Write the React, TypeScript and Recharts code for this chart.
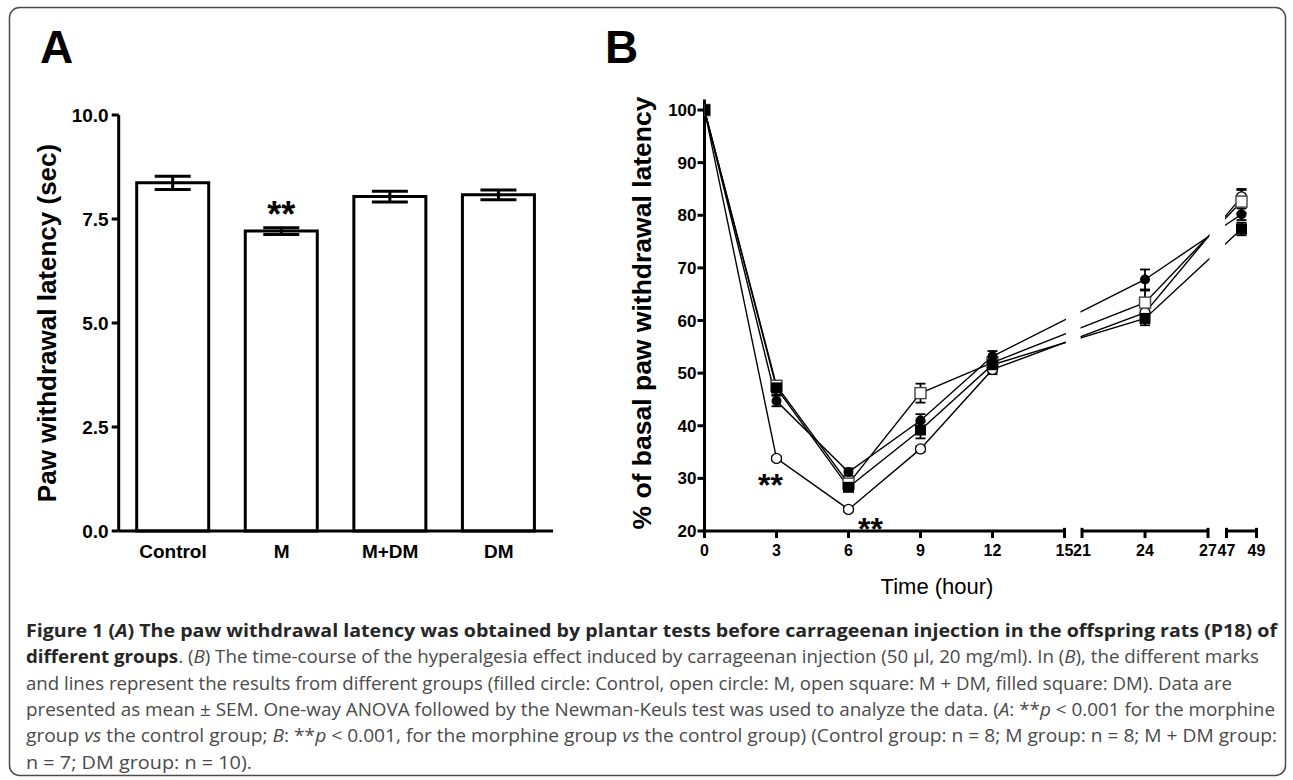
// Figure 1: paw withdrawal latency (A) and carrageenan time-course (B)

import {
  BarChart,
  Bar,
  LineChart,
  Line,
  XAxis,
  YAxis,
  ErrorBar,
  LabelList,
  Label,
  ReferenceLine,
  ReferenceArea,
} from 'recharts';

const FONT = "Arial, 'Liberation Sans', Helvetica, sans-serif";
const CAPTION_FONT = "'Open Sans', 'Noto Sans', sans-serif";

// ── Panel A data ──
const groupsA = ['Control', 'M', 'M+DM', 'DM'];
const latencyA = [8.37, 7.21, 8.04, 8.08];
const semA = [0.16, 0.08, 0.13, 0.12];
const sigA = ['', '**', '', ''];
const yTicksA = [0, 2.5, 5, 7.5, 10];

// ── Panel B data (% of basal latency) ──
const hoursB = [0, 3, 6, 9, 12, 24, 48];
const controlB = [100, 44.7, 31.2, 41.0, 53.2, 67.8, 80.2];
const controlSemB = [0, 1.0, 0.7, 1.2, 1.0, 1.9, 1.1];
const mB = [100, 33.8, 24.1, 35.6, 50.7, 61.5, 83.5];
const mSemB = [0, 0.4, 0.4, 0.5, 0.9, 1.2, 1.5];
const mdmB = [100, 47.6, 29.0, 46.2, 52.0, 63.4, 82.6];
const mdmSemB = [0, 0.9, 0.5, 1.8, 1.0, 2.3, 2.2];
const dmB = [100, 47.2, 28.3, 39.2, 51.6, 60.4, 77.4];
const dmSemB = [0, 1.3, 0.7, 1.6, 1.4, 1.3, 1.2];
const sigB = ['', '**', '**', '', '', '', ''];
const xTicksB = [0, 3, 6, 9, 12, 15, 21, 24, 27, 47, 49];
const yTicksB = [20, 30, 40, 50, 60, 70, 80, 90, 100];
const axisPiecesB = [
  [0, 15],
  [21, 27],
  [47, 49],
];

// broken x axis: each piece gets its own start and compression on a linear position scale
const BREAKS = [
  { from: 0, to: 15, start: 0, scale: 1 },
  { from: 21, to: 27, start: 15.73, scale: 0.875 },
  { from: 47, to: 49, start: 21.75, scale: 0.625 },
];
const toPos = (h: number) => {
  const seg = BREAKS.find((b) => h >= b.from && h <= b.to) ?? BREAKS[BREAKS.length - 1];
  return seg.start + (h - seg.from) * seg.scale;
};
const fmtHour = (v: number) => {
  const h = xTicksB.find((t) => Math.abs(toPos(t) - v) < 1e-6);
  return h === undefined ? '' : String(h);
};

const barRows = groupsA.map((g, i) => ({ group: g, latency: latencyA[i], sem: semA[i], sig: sigA[i] }));

const rowsB = hoursB.map((h, i) => ({
  pos: toPos(h),
  control: controlB[i],
  controlSem: controlSemB[i],
  m: mB[i],
  mSem: mSemB[i],
  sig: sigB[i],
  mdm: mdmB[i],
  mdmSem: mdmSemB[i],
  dm: dmB[i],
  dmSem: dmSemB[i],
}));

// where the "**" sits relative to the open-circle point (by index)
const SIG_OFFSET: Record<number, [number, number]> = { 1: [-6, 38], 2: [22, 31] };

const tickA = { fill: '#000', fontSize: 19, fontWeight: 'bold', fontFamily: FONT };
const tickB = { fill: '#000', fontSize: 17, fontWeight: 'bold', fontFamily: FONT };
const axisStroke = { stroke: '#000', strokeWidth: 3 };

type DotP = { cx?: number; cy?: number; index?: number; payload?: { sig?: string } };

const filledCircle = (p: DotP) => <circle key={`fc-${p.index}`} cx={p.cx} cy={p.cy} r={5} fill="#000" />;
const filledSquare = (p: DotP) => (
  <rect key={`fs-${p.index}`} x={(p.cx ?? 0) - 5.5} y={(p.cy ?? 0) - 5.5} width={11} height={11} fill="#000" />
);
const openSquare = (p: DotP) => (
  <rect
    key={`os-${p.index}`}
    x={(p.cx ?? 0) - 5.5}
    y={(p.cy ?? 0) - 5.5}
    width={11}
    height={11}
    fill="#fff"
    stroke="#444"
    strokeWidth={1.4}
  />
);
const openCircle = (p: DotP) => {
  const off = SIG_OFFSET[p.index ?? -1];
  return (
    <g key={`oc-${p.index}`}>
      <circle cx={p.cx} cy={p.cy} r={5} fill="#fff" stroke="#000" strokeWidth={1.3} />
      {p.payload?.sig && off ? (
        <text
          x={(p.cx ?? 0) + off[0]}
          y={(p.cy ?? 0) + off[1]}
          textAnchor="middle"
          fontFamily={FONT}
          fontWeight="bold"
          fontSize={32}
          fill="#000"
        >
          {p.payload.sig}
        </text>
      ) : null}
    </g>
  );
};

const seriesB = [
  { key: 'm', dot: openCircle },
  { key: 'mdm', dot: openSquare },
  { key: 'control', dot: filledCircle },
  { key: 'dm', dot: filledSquare },
];

const captionLines: { y: number; w: number; parts: [string, string][] }[] = [
  {
    y: 637,
    w: 1251,
    parts: [
      ['b', 'Figure 1 ('],
      ['bi', 'A'],
      ['b', ') The paw withdrawal latency was obtained by plantar tests before carrageenan injection in the offspring rats (P18) of'],
    ],
  },
  {
    y: 663.3,
    w: 1233,
    parts: [
      ['b', 'different groups'],
      ['r', '. ('],
      ['i', 'B'],
      ['r', ') The time-course of the hyperalgesia effect induced by carrageenan injection (50 µl, 20 mg/ml). In ('],
      ['i', 'B'],
      ['r', '), the different marks'],
    ],
  },
  {
    y: 689.6,
    w: 1206,
    parts: [
      ['r', 'and lines represent the results from different groups (filled circle: Control, open circle: M, open square: M + DM, filled square: DM). Data are'],
    ],
  },
  {
    y: 716,
    w: 1249,
    parts: [
      ['r', 'presented as mean ± SEM. One-way ANOVA followed by the Newman-Keuls test was used to analyze the data. ('],
      ['i', 'A'],
      ['r', ': **'],
      ['i', 'p'],
      ['r', ' < 0.001 for the morphine'],
    ],
  },
  {
    y: 742.2,
    w: 1251,
    parts: [
      ['r', 'group '],
      ['i', 'vs'],
      ['r', ' the control group; '],
      ['i', 'B'],
      ['r', ': **'],
      ['i', 'p'],
      ['r', ' < 0.001, for the morphine group '],
      ['i', 'vs'],
      ['r', ' the control group) (Control group: n = 8; M group: n = 8; M + DM group:'],
    ],
  },
  { y: 768.5, w: 226, parts: [['r', 'n = 7; DM group: n = 10).']] },
];

export default function App() {
  return (
    <div style={{ position: 'relative', width: 1293, height: 780, background: '#fff', overflow: 'hidden' }}>
      <style>{'body{margin:0;background:#fff}'}</style>

      {/* frame, panel letters and caption */}
      <svg width={1293} height={780} style={{ position: 'absolute', left: 0, top: 0 }}>
        <rect x={9.5} y={7.5} width={1276} height={768} rx={10} fill="none" stroke="#4a4a4a" strokeWidth={1.5} />
        <text x={40} y={63} fontFamily={FONT} fontWeight="bold" fontSize={46} fill="#000">
          A
        </text>
        <text x={605} y={63} fontFamily={FONT} fontWeight="bold" fontSize={46} fill="#000">
          B
        </text>
        {captionLines.map((line, li) => (
          <text
            key={li}
            x={26}
            y={line.y}
            textLength={line.w}
            lengthAdjust="spacingAndGlyphs"
            fontFamily={CAPTION_FONT}
            fontSize={18.5}
            fill="#4a4a4a"
          >
            {line.parts.map(([style, txt], pi) => (
              <tspan
                key={pi}
                fontWeight={style.includes('b') ? 'bold' : 'normal'}
                fontStyle={style.includes('i') ? 'italic' : 'normal'}
                fill={style.includes('b') ? '#262626' : '#4a4a4a'}
              >
                {txt}
              </tspan>
            ))}
          </text>
        ))}
      </svg>

      {/* Panel A */}
      <div style={{ position: 'absolute', left: 0, top: 0 }}>
        <BarChart
          width={600}
          height={600}
          data={barRows}
          margin={{ top: 115, right: 47, bottom: 29, left: 48.7 }}
        >
          <XAxis
            dataKey="group"
            interval={0}
            tickLine={false}
            axisLine={axisStroke}
            tick={tickA}
            tickSize={8}
            tickMargin={6}
            height={40}
          />
          <YAxis
            type="number"
            domain={[0, 10]}
            ticks={yTicksA}
            interval={0}
            tickFormatter={(v: number) => v.toFixed(1)}
            width={70}
            axisLine={axisStroke}
            tickLine={axisStroke}
            tickSize={7}
            tickMargin={3}
            tick={tickA}
          >
            <Label
              content={() => (
                <text
                  x={56}
                  y={323}
                  transform="rotate(-90 56 323)"
                  textAnchor="middle"
                  fontFamily={FONT}
                  fontWeight="bold"
                  fontSize={26}
                  fill="#000"
                >
                  Paw withdrawal latency (sec)
                </text>
              )}
            />
          </YAxis>
          <Bar dataKey="latency" barSize={72} fill="#fff" stroke="#000" strokeWidth={3} isAnimationActive={false}>
            <ErrorBar dataKey="sem" width={18} stroke="#000" strokeWidth={3} direction="y" />
            <LabelList
              dataKey="sig"
              position="top"
              offset={4}
              fontFamily={FONT}
              fontWeight="bold"
              fontSize={36}
              fill="#000"
            />
          </Bar>
        </BarChart>
      </div>

      {/* Panel B */}
      <div style={{ position: 'absolute', left: 560, top: 0 }}>
        <LineChart
          width={733}
          height={640}
          data={rowsB}
          margin={{ top: 99.5, right: 36.5, bottom: 39, left: 80.5 }}
        >
          <XAxis
            type="number"
            dataKey="pos"
            domain={[0, 23]}
            ticks={xTicksB.map(toPos)}
            tickFormatter={fmtHour}
            interval={0}
            axisLine={false}
            tickLine={axisStroke}
            tickSize={7}
            tickMargin={7}
            height={70}
            tick={{ ...tickB, fontSize: 16 }}
            allowDataOverflow
          >
            <Label
              content={() => (
                <text x={377} y={594} textAnchor="middle" fontFamily={FONT} fontSize={22} fill="#000">
                  Time (hour)
                </text>
              )}
            />
          </XAxis>
          <YAxis
            type="number"
            domain={[20, 102]}
            ticks={yTicksB}
            interval={0}
            width={64}
            axisLine={axisStroke}
            tickLine={axisStroke}
            tickSize={7}
            tickMargin={1}
            tick={tickB}
            allowDataOverflow
          >
            <Label
              content={() => (
                <text
                  x={91}
                  y={313}
                  transform="rotate(-90 91 313)"
                  textAnchor="middle"
                  fontFamily={FONT}
                  fontWeight="bold"
                  fontSize={26.5}
                  fill="#000"
                >
                  % of basal paw withdrawal latency
                </text>
              )}
            />
          </YAxis>

          {seriesB.map((s) => (
            <Line
              key={s.key}
              type="linear"
              dataKey={s.key}
              stroke="#000"
              strokeWidth={1.4}
              dot={s.dot}
              activeDot={false}
              isAnimationActive={false}
            >
              <ErrorBar dataKey={`${s.key}Sem`} width={5} stroke="#000" strokeWidth={1.8} direction="y" />
            </Line>
          ))}

          {/* white gaps where the axis is broken */}
          <ReferenceArea x1={toPos(15) + 0.06} x2={toPos(21) - 0.06} y1={20.6} y2={102} fill="#fff" fillOpacity={1} stroke="none" zIndex={900} />
          <ReferenceArea x1={toPos(27) + 0.06} x2={toPos(47) - 0.06} y1={20.6} y2={102} fill="#fff" fillOpacity={1} stroke="none" zIndex={900} />

          {/* broken x axis pieces */}
          {axisPiecesB.map(([a, b]) => (
            <ReferenceLine
              key={`ax-${a}`}
              segment={[
                { x: toPos(a), y: 20 },
                { x: toPos(b), y: 20 },
              ]}
              stroke="#000"
              strokeWidth={3}
              ifOverflow="visible"
              zIndex={1000}
            />
          ))}
          {axisPiecesB.flat().filter((h) => h !== 0).map((h) => (
            <ReferenceLine
              key={`end-${h}`}
              segment={[
                { x: toPos(h), y: 20 },
                { x: toPos(h), y: 20.6 },
              ]}
              stroke="#000"
              strokeWidth={3}
              ifOverflow="visible"
              zIndex={1000}
            />
          ))}
        </LineChart>
      </div>
    </div>
  );
}
